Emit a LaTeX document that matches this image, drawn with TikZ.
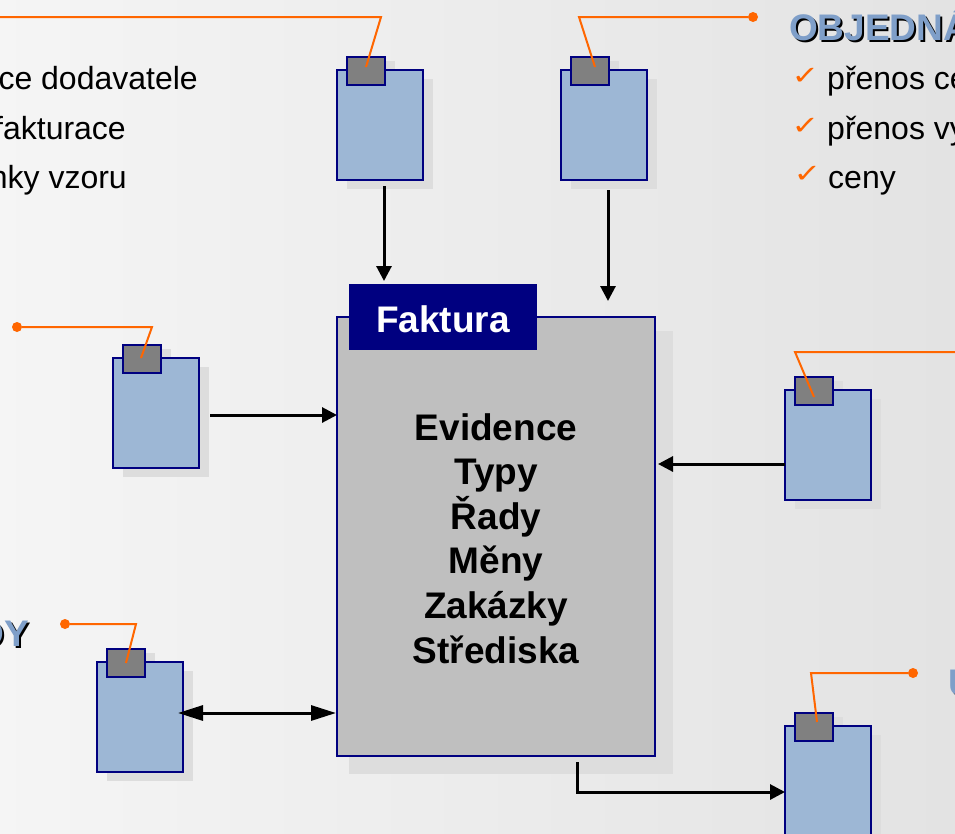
\documentclass[tikz,border=0pt]{standalone}
\usepackage{fontspec}
\setmainfont{Liberation Sans}
\newfontfamily\symfont{DejaVu Sans}
\usetikzlibrary{arrows.meta}
\definecolor{navyb}{HTML}{000080}
\definecolor{docblue}{HTML}{9DB7D5}
\definecolor{tabgray}{HTML}{808080}
\definecolor{mainfill}{HTML}{BFBFBF}
\definecolor{shad}{HTML}{DDDDDD}
\definecolor{lead}{HTML}{FF6600}
\definecolor{headblue}{HTML}{7F9FC9}
\newcommand{\bodyfont}{\fontsize{32}{32}\selectfont}
\newcommand{\docfig}[3]{%
  \node[shadowbox,minimum width=86pt,minimum height=110pt] (#1s) at (#2+10,#3+9) {};
  \node[shadowbox,minimum width=38pt,minimum height=20pt] (#1ts) at (#2+20,#3-9) {};
  \node[docbox] (#1) at (#2,#3) {};
  \node[tabbox] (#1t) at (#2+10,#3-13) {};
}
\newcommand{\headtext}[4]{% name, anchor, position, text
  \node[headlabel,text=black,anchor=#2] (#1s) at ([shift={(2,2)}]#3) {#4};
  \node[headlabel,text=headblue,anchor=#2] (#1) at (#3) {#4};
}
\tikzset{
  x=1pt,y=-1pt,
  shadowbox/.style={anchor=north west,fill=shad,draw=none,inner sep=0pt,outer sep=0pt},
  docbox/.style={anchor=north west,fill=docblue,draw=navyb,line width=2pt,inner sep=0pt,outer sep=0pt,minimum width=86pt,minimum height=110pt},
  tabbox/.style={anchor=north west,fill=tabgray,draw=navyb,line width=2pt,inner sep=0pt,outer sep=0pt,minimum width=38pt,minimum height=28pt},
  mainbox/.style={anchor=north west,fill=mainfill,draw=navyb,line width=2pt,inner sep=0pt,outer sep=0pt,minimum width=318pt,minimum height=439pt},
  headerbox/.style={anchor=center,fill=navyb,text=white,inner sep=0pt,outer sep=0pt,minimum width=188pt,minimum height=66pt,text height=30pt,text depth=0pt,font=\bfseries\fontsize{37}{37}\selectfont},
  maintext/.style={align=center,font=\bfseries\fontsize{37}{44.6}\selectfont,inner sep=0pt},
  bodytext/.style={inner sep=0pt,font=\bodyfont},
  headlabel/.style={inner sep=0pt,font=\bfseries\fontsize{37}{37}\selectfont},
  checkm/.style={inner sep=0pt,text=lead,font=\symfont\fontsize{33}{33}\selectfont},
  leader/.style={draw=lead,line width=2pt},
  leaddot/.style={circle,fill=lead,draw=none,inner sep=0pt,minimum size=10pt},
  conn/.style={draw=black,line width=3pt,-{Triangle[length=15pt,width=15pt]}},
  conntwo/.style={draw=black,line width=3pt,{Triangle[length=25pt,width=15pt]}-{Triangle[length=25pt,width=15pt]}}
}
\begin{document}
\begin{tikzpicture}
\useasboundingbox (0,0) rectangle (955,833);
\clip (0,0) rectangle (955,833);
\shade[left color=black!4,right color=black!11] (0,0) rectangle (955,833);

% main block
\node[shadowbox,minimum width=324pt,minimum height=443pt] (mains) at (349,331) {};
\node[mainbox] (main) at (337,317) {};
\node[headerbox] (head) at (443,317) {Faktura};
\node[maintext,anchor=north] (mtext) at (496,413) {Evidence\\Typy\\Řady\\Měny\\Zakázky\\Střediska};

% documents
\docfig{a}{337}{70}
\docfig{b}{561}{70}
\docfig{c}{113}{358}
\docfig{d}{785}{390}
\docfig{e}{97}{662}
\docfig{f}{785}{726}

% leaders
\coordinate (aend) at (-5,17);
\coordinate (ael) at (381,17);
\draw[leader] ([shift={(-0,-4)}]at.center) -- (ael) -- (aend);
\node[leaddot] (bdot) at (753,17) {};
\coordinate (bel) at (579,17);
\draw[leader] ([shift={(5,-4)}]bt.center) -- (bel) -- (bdot);
\node[leaddot] (cdot) at (17,327) {};
\coordinate (cel) at (152,327);
\draw[leader] ([shift={(-1,-1)}]ct.center) -- (cel) -- (cdot);
\coordinate (del) at (795,352);
\coordinate (dend) at (960,352);
\draw[leader] ([shift={(0,6)}]dt.center) -- (del) -- (dend);
\node[leaddot] (edot) at (65,624) {};
\coordinate (eel) at (136,624);
\draw[leader] ([shift={(0,0)}]et.center) -- (eel) -- (edot);
\node[leaddot] (fdot) at (913,673) {};
\coordinate (fel) at (811,673);
\draw[leader] ([shift={(3,-5)}]ft.center) -- (fel) -- (fdot);

% connectors
\draw[conn] ([shift={(4,6)}]a.south) -- ([shift={(-112,-36)}]main.north);
\draw[conn] ([shift={(4,10)}]b.south) -- ([shift={(112,-16)}]main.north);
\draw[conn] ([shift={(11,2)}]c.east) -- ([shift={(0,-121.5)}]main.west);
\draw[conn] ([shift={(0,19)}]d.west) -- ([shift={(3,-72.5)}]main.east);
\draw[conntwo] ([shift={(-5,-4)}]e.east) -- ([shift={(-1,176.5)}]main.west);
\coordinate (felbow) at (577,792);
\draw[conn] ([shift={(81,6)}]main.south) -- (felbow) -- ([shift={(0,11)}]f.west);

% labels, left block
\node[bodytext,anchor=base east] (l1) at (198,89) {ce dodavatele};
\node[bodytext,anchor=base east] (l2) at (126,139) {fakturace};
\node[bodytext,anchor=base east] (l3) at (127,188) {nky vzoru};

% labels, right block
\headtext{obj}{base west}{789,40}{OBJEDNÁ}
\node[checkm,anchor=base west] (c1) at (791.5,84.5) {\scalebox{1}[.78]{✓}};
\node[bodytext,anchor=base west] (r1) at (827,89) {přenos ce};
\node[checkm,anchor=base west] (c2) at (791.5,134.5) {\scalebox{1}[.78]{✓}};
\node[bodytext,anchor=base west] (r2) at (827,139) {přenos vy};
\node[checkm,anchor=base west] (c3) at (793.5,182.5) {\scalebox{1}[.78]{✓}};
\node[bodytext,anchor=base west] (r3) at (828,188) {ceny};

\headtext{dy}{base east}{29,646}{DY}
\headtext{uu}{base west}{948,695}{U}
\end{tikzpicture}
\end{document}
